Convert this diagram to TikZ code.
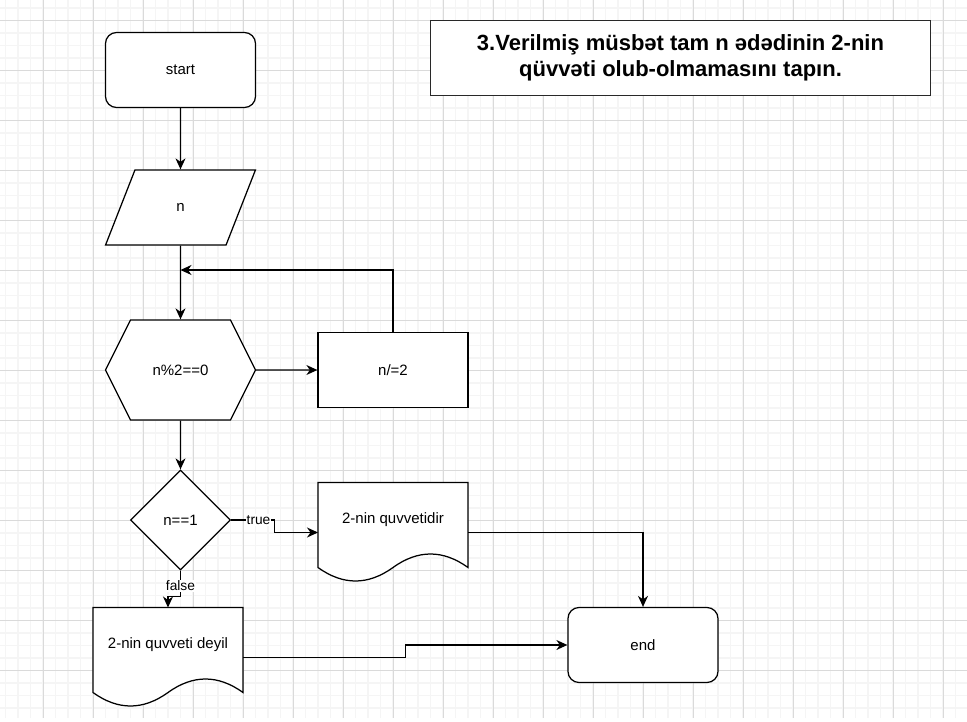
\documentclass[tikz,border=0pt]{standalone}
\usepackage{fontspec}
\setmainfont{Liberation Sans}
\usetikzlibrary{positioning,calc,arrows.meta,shapes.geometric,shapes.symbols}
\usepackage{xcolor}
\definecolor{ink}{RGB}{0,0,0}
\definecolor{frame}{RGB}{40,40,40}
\definecolor{gridminor}{RGB}{245,245,245}
\definecolor{gridmajor}{RGB}{218,218,218}
\pgfdeclarelayer{bg}
\pgfsetlayers{bg,main}

% wavy document outline under a text box
\newcommand{\docoutline}[1]{%
  \begin{pgfonlayer}{bg}
    \draw[draw=ink, line width=1.25pt, fill=white]
      (#1.north west) -- (#1.north east) -- ++(0,85)
      .. controls +(-25,-18) and +(25,-18) .. ++(-75,0)
      .. controls +(-25,18) and +(25,18) .. ++(-75,0) -- cycle;
  \end{pgfonlayer}}

\begin{document}
\begin{tikzpicture}[x=1pt, y=-1pt,
  term/.style={draw=ink, line width=1.25pt, fill=white, rounded corners=11pt,
    minimum width=150pt, minimum height=75pt, font=\fontsize{15}{18}\selectfont},
  io/.style={trapezium, trapezium left angle=71.57, trapezium right angle=108.43,
    trapezium stretches=true, draw=ink, line width=1.25pt, fill=white, inner sep=0pt,
    minimum width=150pt, minimum height=75pt, font=\fontsize{15}{18}\selectfont},
  prep/.style={signal, signal to=west and east, signal pointer angle=126.87,
    draw=ink, line width=1.25pt, fill=white, inner sep=0pt,
    minimum width=150pt, minimum height=100pt, font=\fontsize{15}{18}\selectfont},
  proc/.style={draw=ink, line width=1.25pt, fill=white,
    minimum width=150pt, minimum height=75pt, font=\fontsize{15}{18}\selectfont},
  cond/.style={diamond, aspect=1, draw=ink, line width=1.25pt, fill=white, inner sep=0pt,
    minimum width=100pt, minimum height=100pt, font=\fontsize{15}{18}\selectfont},
  docbox/.style={minimum width=150pt, minimum height=75pt, inner sep=0pt, outer sep=0pt,
    font=\fontsize{15}{18}\selectfont},
  title/.style={draw=frame, line width=1.25pt, fill=white, align=center,
    minimum width=500pt, minimum height=75pt, font=\bfseries\fontsize{22}{26.5}\selectfont},
  lbl/.style={fill=white, inner sep=1pt, font=\fontsize{13.75}{16}\selectfont},
  flow/.style={draw=ink, line width=1.25pt, -{Stealth[length=11pt,width=10pt,inset=3.5pt]}}
]
  \useasboundingbox (0,0) rectangle (967,722);

  % grid paper
  \begin{pgfonlayer}{bg}
    \fill[white] (0,0) rectangle (967,722);
    \foreach \gx in {5.5,18,...,967} \draw[gridminor, line width=1.5pt] (\gx,0) -- (\gx,718);
    \foreach \gy in {8,20.5,...,718} \draw[gridminor, line width=1.5pt] (0,\gy) -- (967,\gy);
    \foreach \gx in {43,93,...,967} \draw[gridmajor, line width=0.9pt] (\gx,0) -- (\gx,718);
    \foreach \gy in {20.5,70.5,...,718} \draw[gridmajor, line width=0.9pt] (0,\gy) -- (967,\gy);
  \end{pgfonlayer}

  % blocks
  \node[term] (start) at (180.5,70) {start};
  \node[io] (inp) at (180.5,207.5) {n};
  \node[prep] (test) at (180.5,370) {n\%2==0};
  \node[proc] (half) at (393,370) {n/=2};
  \node[cond] (one) at (180.5,520) {n==1};
  \node[docbox] (yes) at (393,520) {2-nin quvvetidir};
  \node[docbox] (no) at (168,645) {2-nin quvveti deyil};
  \node[term] (end) at (643,645) {end};
  \docoutline{yes}
  \docoutline{no}

  \node[title] (task) at (680.5,58)
    {3.Verilmiş müsbət tam n ədədinin 2-nin\\qüvvəti olub-olmamasını tapın.};

  \coordinate (loop) at (180.5,270);
  \coordinate (jog) at (405.5,645);

  % connectors
  \draw[flow] (start) -- (inp);
  \draw[flow] (inp) -- (test);
  \draw[flow] (half.north) |- (loop);
  \draw[flow] (test) -- (half);
  \draw[flow] (test) -- (one);
  \draw[flow] (one.east) -- node[lbl, pos=0.63] {true} ++(43.5,0)
    |- ([yshift=-12.5pt]yes.west);
  \draw[flow] (one.south) -- node[lbl, pos=0.59] {false} ++(0,25.5) -| (no.north);
  \draw[flow] ([yshift=-12.5pt]yes.east) -| (end.north);
  \draw[flow] ([yshift=-12.5pt]no.east) -| (jog) -- (end.west);
\end{tikzpicture}
\end{document}
